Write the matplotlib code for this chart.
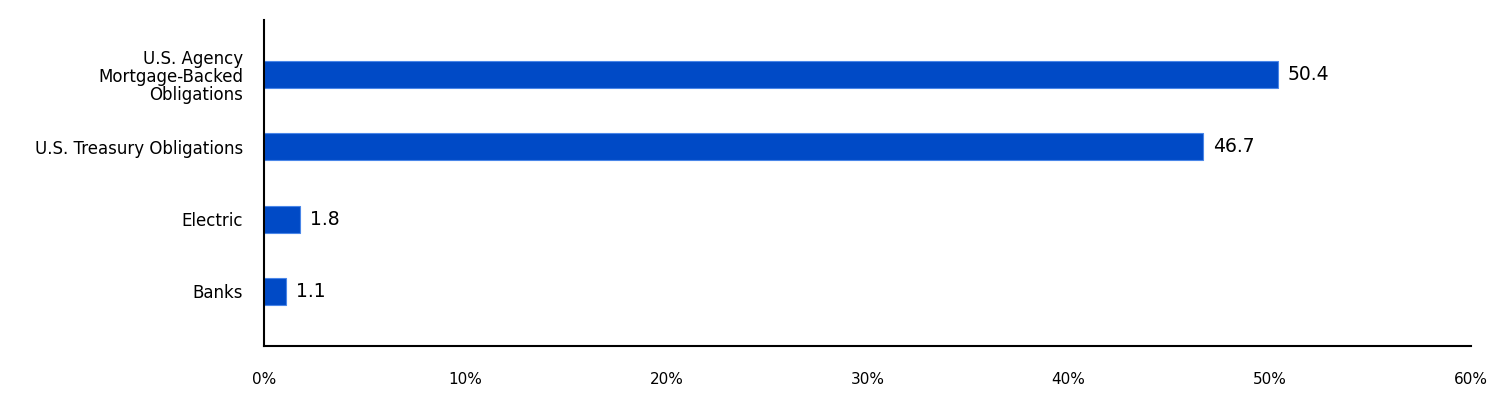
import matplotlib
matplotlib.use("Agg")
import matplotlib.pyplot as plt
import numpy as np

sectors = ["U.S. Agency\nMortgage-Backed\nObligations", "U.S. Treasury Obligations", "Electric", "Banks"]
weights = [50.4, 46.7, 1.8, 1.1]
ticks = [0, 10, 20, 30, 40, 50, 60]

plt.rcParams['font.family'] = ['DejaVu Sans']

fig = plt.figure(figsize=(15.12, 4.2), dpi=100)
ax = fig.add_axes([0.1746, 0.1762, 0.7983, 0.7762])

y = np.arange(len(sectors))
bars = ax.barh(y, weights, height=0.375, color="#004AC6", edgecolor="#4A86E8", linewidth=0.8)

for b, v in zip(bars, weights):
    ax.text(b.get_width() + 0.5, b.get_y() + b.get_height() / 2, f"{v:.1f}",
            va="center", ha="left", fontsize=13.5, color="black")

ax.set_xlim(0, 60)
ax.set_ylim(3.76, -0.76)
ax.set_yticks(y)
ax.set_yticklabels(sectors, fontsize=12, linespacing=1.0)
ax.set_xticks(ticks)
ax.set_xticklabels([f"{t}%" for t in ticks], fontsize=11)
ax.tick_params(axis="both", length=0)
ax.tick_params(axis="x", pad=19)
ax.tick_params(axis="y", pad=15)

for s in ["top", "right"]:
    ax.spines[s].set_visible(False)
ax.spines["left"].set_linewidth(1.5)
ax.spines["bottom"].set_linewidth(1.5)

fig.savefig("out.png", dpi=100)
